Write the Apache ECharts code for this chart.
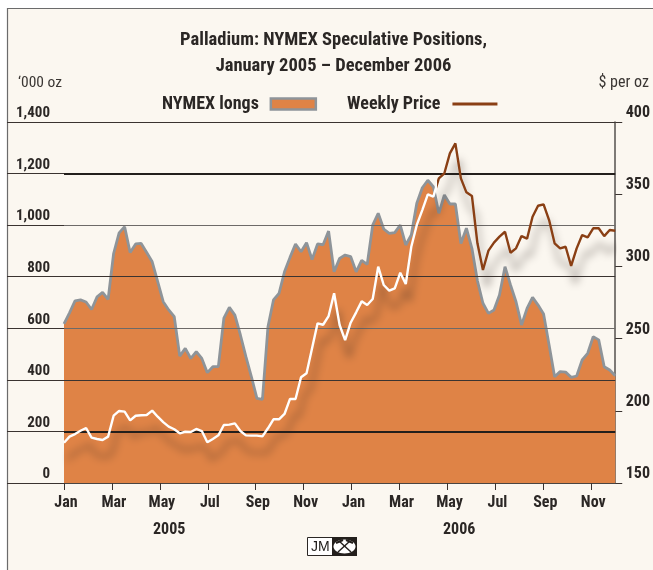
<!DOCTYPE html>
<html>
<head>
<meta charset="utf-8">
<style>html,body{margin:0;padding:0;background:#fff}#c{width:653px;height:570px}</style>
<script src="https://cdn.jsdelivr.net/npm/echarts@6/dist/echarts.min.js"></script>
</head>
<body>
<div id="c"></div>
<script>
const monthLabels = ['Jan','Feb','Mar','Apr','May','Jun','Jul','Aug','Sep','Oct','Nov','Dec','Jan','Feb','Mar','Apr','May','Jun','Jul','Aug','Sep','Oct','Nov','Dec'];
const titleLines = 'Palladium: NYMEX Speculative Positions,\nJanuary 2005 \u2013 December 2006';
const longs = [617,660,706,710,702,673,722,739,712,890,970,994,894,927,929,894,858,781,703,671,645,492,522,483,509,483,
428,451,451,639,681,651,574,490,412,328,324,606,710,735,819,875,927,897,932,867,927,924,977,819,871,
884,878,819,863,848,1000,1046,985,968,971,1000,923,962,1085,1145,1174,1149,1046,1117,1082,1082,929,988,910,784,697,
658,671,729,839,768,703,613,677,720,690,655,535,412,432,430,410,415,477,503,567,555,451,438,416];
const price = [177.9,182.1,183.9,186.2,188.1,181.4,180.5,179.8,182.1,196.6,199.9,199.4,193.4,196.6,196.9,197.1,200.1,195.9,192.2,189,187.2,184.4,185.5,185.3,187.4,186,
178.2,180.5,183,190.2,190.4,191.3,186,183,182.8,182.8,182.3,187.9,194.1,194.1,197.8,208.2,208.2,223.2,226,243.3,260.6,259.6,265.6,281.4,259.4,
249,261,268.2,275.8,273.3,277.4,299.8,287.1,283.2,284.8,295.6,287.8,313.6,328.7,339,349.9,348.3,361,364.5,378.3,385.2,361,351.3,348.8,316,297.5,
310.9,316.5,320.6,324,309.5,312.5,321,319.2,334.4,342,343,332.1,316,312.5,313.6,300.3,312.5,321.7,320.1,326.4,326.4,321,325.2,324.7];
const monthsPerPoint = 0.23; // roughly weekly readings, on an axis counted in months
const gridLevels = [
  {v:1400,c:'#3a3330',w:1.2},{v:1200,c:'#231f1c',w:2},{v:1000,c:'#6d6a68',w:1.2},{v:800,c:'#3a3330',w:1.2},
  {v:600,c:'#6d6a68',w:1.2},{v:400,c:'#3a3330',w:1.2},{v:200,c:'#231f1c',w:2}
];
const font = '"Liberation Sans Narrow","Roboto Condensed","Liberation Sans",sans-serif';
const ink = '#2b2725';
const pairs = a => a.map((v,i) => [i*monthsPerPoint, v]);

const chart = echarts.init(document.getElementById('c'), null, {renderer:'canvas'});
chart.setOption({
  animation:false,
  textStyle:{fontFamily:font},
  title:{text:titleLines,left:328.5,top:22,textAlign:'center',
    textStyle:{fontFamily:font,fontSize:18.5,fontWeight:'bold',color:ink,lineHeight:26}},
  legend:{left:157,top:90,align:'right',itemWidth:45,itemHeight:11,itemGap:30,selectedMode:false,
    textStyle:{fontFamily:font,fontSize:18,fontWeight:'bold',color:ink,padding:[0,7,0,0]},
    data:[
      {name:'NYMEX longs',icon:'rect',itemStyle:{color:'#DF8346',borderColor:'#8E9499',borderWidth:2.5}},
      {name:'Weekly Price',icon:'path://M0 0H49V3.4H0Z',itemStyle:{color:'#8A3F14',borderWidth:0}}
    ]},
  grid:{left:64,right:37.5,top:122,bottom:87},
  xAxis:{type:'value',min:0,max:23,interval:2,splitLine:{show:false},
    axisLine:{show:true,lineStyle:{color:'#4a4542',width:1.2}},
    axisTick:{show:true,length:7,lineStyle:{color:'#3a3330',width:1}},
    axisLabel:{margin:12,fontFamily:font,fontSize:16,fontWeight:'bold',color:ink,padding:[0,0,0,4],
      showMinLabel:true,showMaxLabel:false,formatter:v=>monthLabels[v]}},
  yAxis:[
    {type:'value',min:0,max:1400,interval:200,splitLine:{show:false},
     name:'\u2018000 oz',nameLocation:'end',nameGap:31,
     nameTextStyle:{fontFamily:font,fontSize:15.5,color:'#3a3633',align:'right',padding:[0,2,0,0]},
     axisLine:{show:false},
     axisTick:{show:true,length:57,lineStyle:{color:'#3a3330',width:1.2}},
     axisLabel:{margin:14,verticalAlign:'bottom',fontFamily:font,fontSize:15,fontWeight:'bold',color:ink,padding:[0,0,1,0]}},
    {type:'value',position:'right',min:150,max:400,interval:50,splitLine:{show:false},
     name:'$ per oz',nameLocation:'end',nameGap:31,
     nameTextStyle:{fontFamily:font,fontSize:16,color:'#3a3633',align:'center',padding:[0,0,0,17]},
     axisLine:{show:true,lineStyle:{color:'#55514e',width:1.5}},
     axisTick:{show:true,length:7,lineStyle:{color:'#3a3330',width:1}},
     axisLabel:{margin:10.5,verticalAlign:'bottom',fontFamily:font,fontSize:16,fontWeight:'bold',color:ink,padding:[0,0,1,0]}}
  ],
  visualMap:{show:false,type:'piecewise',seriesIndex:1,dimension:0,
    pieces:[{min:-1,max:67.6*monthsPerPoint,color:'#ffffff'},{min:67.6*monthsPerPoint,max:30,color:'#8A3F14'}]},
  series:[
    {name:'NYMEX longs',type:'line',yAxisIndex:0,data:pairs(longs),symbol:'none',z:2,
     lineStyle:{color:'#8E9499',width:2.8},itemStyle:{color:'#DF8346'},areaStyle:{color:'#DF8346',opacity:1},
     markLine:{silent:true,symbol:'none',animation:false,label:{show:false},z:3,
       data:gridLevels.map(g=>({yAxis:g.v,lineStyle:{color:g.c,width:g.w,type:'solid'}}))}},
    {name:'Weekly Price',type:'line',yAxisIndex:1,data:pairs(price),symbol:'none',z:6,
     lineStyle:{width:2.4,shadowColor:'rgba(45,35,30,0.5)',shadowBlur:9,shadowOffsetX:4,shadowOffsetY:17}}
  ],
  graphic:[
    {type:'rect',z:-10,silent:true,shape:{x:7.5,y:8.5,width:660,height:580},
     style:{fill:'#FBF7F0',stroke:'#6b6b6b',lineWidth:1.2}},
    {type:'text',left:153,top:522,style:{text:'2005',font:'bold 16px '+font,fill:ink}},
    {type:'text',left:443,top:522,style:{text:'2006',font:'bold 16px '+font,fill:ink}},
    {type:'group',left:307,top:537,children:[
      {type:'rect',shape:{x:0.5,y:0.5,width:25,height:18},style:{fill:'#fff',stroke:'#2b2725',lineWidth:1}},
      {type:'text',x:4,y:3,style:{text:'JM',font:'14px "Liberation Sans",sans-serif',fill:'#1d1a18'}},
      {type:'rect',shape:{x:25,y:0,width:25,height:19},style:{fill:'#231f1c'}},
      {type:'ellipse',shape:{cx:37.5,cy:9.5,rx:11,ry:7},style:{fill:'#fff'}},
      {type:'line',shape:{x1:31,y1:15,x2:43,y2:4},style:{stroke:'#231f1c',lineWidth:1.4}},
      {type:'line',shape:{x1:44,y1:15,x2:32,y2:4},style:{stroke:'#231f1c',lineWidth:1.4}},
      {type:'line',shape:{x1:39,y1:3,x2:46,y2:6},style:{stroke:'#231f1c',lineWidth:2}},
      {type:'line',shape:{x1:36,y1:3,x2:29,y2:6},style:{stroke:'#231f1c',lineWidth:2}}
    ]}
  ]
});
</script>
</body>
</html>
